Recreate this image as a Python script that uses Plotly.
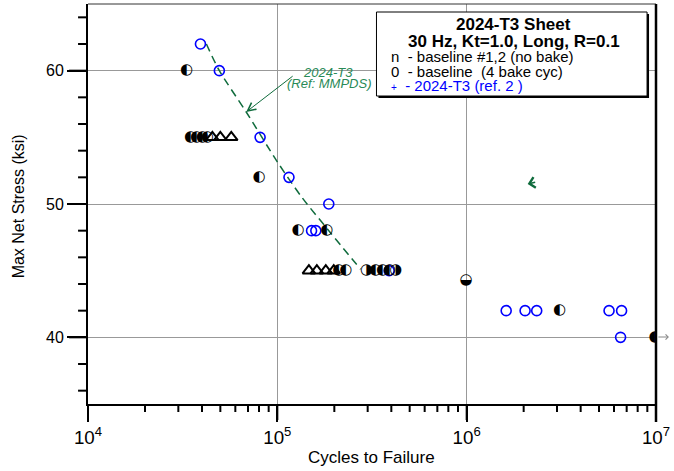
import math
import plotly.graph_objects as go

# ---------------- data ----------------
# MMPDS reference curve for 2024-T3
mmpds_cycles = [42200, 49400, 68500, 99600, 134800, 187000, 275400]
mmpds_stress = [62.0, 60.0, 56.9, 53.2, 50.5, 48.0, 45.1]

# 2024-T3 (ref. 2) - blue open circles
ref2_cycles = [39260, 49400, 81100, 115200, 187000, 151600, 159700, 389400,
               1617000, 2035000, 2344000, 5650000, 6580000, 6500000]
ref2_stress = [62, 60, 55, 52, 50, 48, 48, 45, 42, 42, 42, 42, 42, 40]

# baseline #1,2 (no bake) - left-half-black circles
nobake_cycles = [33130, 34780, 37390, 40210, 42720, 80130, 128500, 182500,
                 210900, 229600, 330100, 359400, 391100, 3096000, 9890000]
nobake_stress = [60, 55, 55, 55, 55, 52, 48, 48, 45, 45, 45, 45, 45, 42, 40]

# baseline (4 bake cyc) - right-half-black circles
bake_cycles = [296100, 423000]
bake_stress = [45, 45]

# other baseline specimen - lower-half-black circle
other_cycles = [993000]
other_stress = [44.3]

# open triangles
tri_cycles = [45380, 49990, 57110, 146800, 161700, 180300, 198600]
tri_stress = [55, 55, 55, 45, 45, 45, 45]

# axis tick positions
x_major_vals = [1e4, 1e5, 1e6, 1e7]
x_minor_vals = [m * 10 ** e for e in (4, 5, 6) for m in range(2, 10)]
y_major_vals = [40, 50, 60]
y_minor_vals = [v for v in range(36, 65, 2) if v % 10 != 0]

# ---------------- layout geometry ----------------
W, H = 674, 471
ML, MR, MT, MB = 88, 15, 4, 67
PW, PH = W - ML - MR, H - MT - MB
XLOG_MIN, XLOG_MAX = 4, 7
Y_MIN, Y_MAX = 35, 65


def px(xp):
    return (xp - ML) / PW


def py(yp):
    return (H - MB - yp) / PH


def xfrac(v):
    return (math.log10(v) - XLOG_MIN) / (XLOG_MAX - XLOG_MIN)


def yfrac(v):
    return (v - Y_MIN) / (Y_MAX - Y_MIN)


FONT = "Liberation Sans, Arial, sans-serif"
GREEN_T = "#2a8a57"
GREEN_L = "#0f6b3c"

fig = go.Figure()

fig.add_trace(go.Scatter(
    x=mmpds_cycles, y=mmpds_stress, mode="lines",
    line=dict(color=GREEN_L, width=1.5, dash="8px,5px", shape="spline", smoothing=0.8),
    hoverinfo="skip", showlegend=False))

fig.add_trace(go.Scatter(
    x=ref2_cycles, y=ref2_stress, mode="markers",
    marker=dict(symbol="circle-open", size=10, color="#0000ff", line=dict(width=1.6)),
    showlegend=False))

fig.add_trace(go.Scatter(
    x=tri_cycles, y=tri_stress, mode="markers",
    marker=dict(symbol="triangle-up-open", size=11, color="black", line=dict(width=2)),
    showlegend=False))

for xs, ys, g in [(nobake_cycles, nobake_stress, "\u25d0"),
                  (bake_cycles, bake_stress, "\u25d1"),
                  (other_cycles, other_stress, "\u25d2")]:
    fig.add_trace(go.Scatter(
        x=xs, y=ys, mode="text", text=[g] * len(xs), textposition="middle center",
        textfont=dict(family="DejaVu Sans", size=15, color="black"),
        showlegend=False))

shapes = []
TICK = dict(color="black", width=2)
# x-axis tick marks (outside, below)
for v in x_major_vals:
    shapes.append(dict(type="line", xref="paper", yref="paper", x0=xfrac(v), x1=xfrac(v),
                       y0=0, y1=-16 / PH, line=TICK, layer="above"))
for v in x_minor_vals:
    shapes.append(dict(type="line", xref="paper", yref="paper", x0=xfrac(v), x1=xfrac(v),
                       y0=0, y1=-8 / PH, line=TICK, layer="above"))
# y-axis tick marks (outside, left)
for v in y_major_vals:
    shapes.append(dict(type="line", xref="paper", yref="paper", x0=0, x1=-19 / PW,
                       y0=yfrac(v), y1=yfrac(v), line=TICK, layer="above"))
for v in y_minor_vals:
    shapes.append(dict(type="line", xref="paper", yref="paper", x0=0, x1=-10 / PW,
                       y0=yfrac(v), y1=yfrac(v), line=TICK, layer="above"))
# frame lines
shapes.append(dict(type="line", xref="paper", yref="paper", x0=0, x1=1, y0=1, y1=1,
                   line=dict(color="#333333", width=1), layer="above"))
shapes.append(dict(type="line", xref="paper", yref="paper", x0=1, x1=1, y0=py(422), y1=1,
                   line=dict(color="black", width=2.5), layer="above"))
# legend box with shadow
shapes.append(dict(type="rect", xref="paper", yref="paper",
                   x0=px(380), x1=px(652), y0=py(98), y1=py(14),
                   line=dict(width=0), fillcolor="black", layer="above"))
shapes.append(dict(type="rect", xref="paper", yref="paper",
                   x0=px(378), x1=px(650), y0=py(96), y1=py(12),
                   line=dict(color="black", width=1), fillcolor="white", layer="above"))

ann = []
ann.append(dict(xref="paper", yref="paper", x=px(373), y=py(457), text="Cycles to Failure",
                showarrow=False, font=dict(family=FONT, size=17, color="black"),
                xanchor="center", yanchor="middle"))
ann.append(dict(xref="paper", yref="paper", x=px(18), y=py(206), text="Max Net Stress (ksi)",
                showarrow=False, textangle=-90, font=dict(family=FONT, size=16, color="black"),
                xanchor="center", yanchor="middle"))
ann.append(dict(xref="paper", yref="paper", x=px(516), y=py(24), text="<b>2024-T3 Sheet</b>",
                showarrow=False, font=dict(family=FONT, size=17, color="black"),
                xanchor="center", yanchor="middle"))
ann.append(dict(xref="paper", yref="paper", x=px(516), y=py(41),
                text="<b>30 Hz, Kt=1.0, Long, R=0.1</b>",
                showarrow=False, font=dict(family=FONT, size=17, color="black"),
                xanchor="center", yanchor="middle"))
ann.append(dict(xref="paper", yref="paper", x=px(391), y=py(57),
                text="n\u00a0\u00a0- baseline #1,2 (no bake)",
                showarrow=False, font=dict(family=FONT, size=15, color="black"),
                xanchor="left", yanchor="middle"))
ann.append(dict(xref="paper", yref="paper", x=px(391), y=py(71),
                text="0\u00a0\u00a0- baseline\u00a0\u00a0(4 bake cyc)",
                showarrow=False, font=dict(family=FONT, size=15, color="black"),
                xanchor="left", yanchor="middle"))
ann.append(dict(xref="paper", yref="paper", x=px(391), y=py(86),
                text="<span style='font-size:10px'>+</span>\u00a0\u00a0- 2024-T3 (ref. 2 )",
                showarrow=False, font=dict(family=FONT, size=15, color="#0000ff"),
                xanchor="left", yanchor="middle"))
ann.append(dict(xref="paper", yref="paper", x=px(329), y=py(72), text="<i>2024-T3</i>",
                showarrow=False, font=dict(family=FONT, size=13, color=GREEN_T),
                xanchor="center", yanchor="middle"))
ann.append(dict(xref="paper", yref="paper", x=px(331), y=py(84), text="<i>(Ref: MMPDS)</i>",
                showarrow=False, font=dict(family=FONT, size=13, color=GREEN_T),
                xanchor="center", yanchor="middle"))
ann.append(dict(xref="paper", yref="paper", x=px(247), y=py(112), text="",
                showarrow=True, axref="pixel", ayref="pixel", ax=48, ay=-37,
                arrowhead=5, arrowsize=1.6, arrowwidth=1, arrowcolor=GREEN_L))
ann.append(dict(xref="paper", yref="paper", x=px(530), y=py(184), text="",
                showarrow=True, axref="pixel", ayref="pixel", ax=9, ay=-2,
                arrowhead=4, arrowsize=1.4, arrowwidth=1.5, arrowcolor=GREEN_L))
ann.append(dict(xref="paper", yref="paper", x=px(672), y=py(337), text="",
                showarrow=True, axref="pixel", ayref="pixel", ax=-12, ay=0,
                arrowhead=4, arrowsize=1, arrowwidth=1, arrowcolor="#888888"))

fig.update_layout(
    width=W, height=H,
    margin=dict(l=ML, r=MR, t=MT, b=MB, pad=0),
    paper_bgcolor="white", plot_bgcolor="white",
    font=dict(family=FONT, size=15, color="black"),
    showlegend=False,
    shapes=shapes, annotations=ann,
    xaxis=dict(type="log", range=[XLOG_MIN, XLOG_MAX], tickmode="linear", tick0=0, dtick=1,
               exponentformat="power", ticks="outside", ticklen=16, tickwidth=2,
               tickcolor="black", showline=True, linecolor="black", linewidth=2,
               showgrid=True, gridcolor="#999999", gridwidth=1, zeroline=False,
               tickfont=dict(family=FONT, size=15)),
    yaxis=dict(range=[Y_MIN, Y_MAX], tickmode="linear", tick0=0, dtick=10,
               ticks="outside", ticklen=19, tickwidth=2, tickcolor="black",
               showline=True, linecolor="black", linewidth=2,
               showgrid=True, gridcolor="#999999", gridwidth=1, zeroline=False,
               tickfont=dict(family=FONT, size=16)),
)

fig.write_html("out.html", config={"displayModeBar": False},
               post_script="document.body.style.margin='0';document.body.style.padding='0';")
